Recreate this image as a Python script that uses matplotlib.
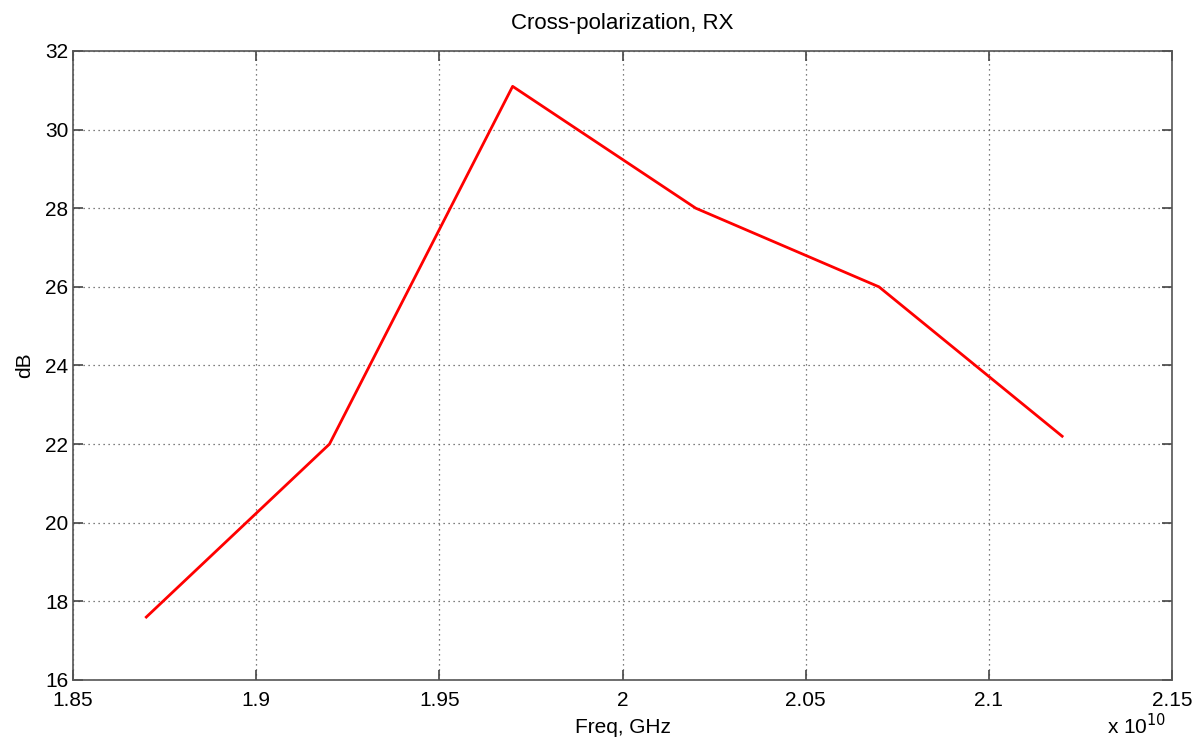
import numpy as np
import matplotlib.pyplot as plt
from matplotlib.ticker import FuncFormatter

plt.rcParams['font.family'] = ['Liberation Sans', 'DejaVu Sans']

freq = [1.87e10, 1.92e10, 1.97e10, 2.02e10, 2.07e10, 2.12e10]
xpol_db = [17.6, 22.0, 31.1, 28.0, 26.0, 22.2]

xticks = [1.85e10, 1.9e10, 1.95e10, 2.0e10, 2.05e10, 2.1e10, 2.15e10]
yticks = [16, 18, 20, 22, 24, 26, 28, 30, 32]

fig = plt.figure(figsize=(12.01, 7.42), dpi=100)
ax = fig.add_axes([0.0608, 0.0836, 0.9151, 0.8477])

ax.plot(freq, xpol_db, color='red', lw=2)

ax.set_xlim(1.85e10, 2.15e10)
ax.set_ylim(16, 32)
ax.set_xticks(xticks)
ax.set_yticks(yticks)
ax.xaxis.set_major_formatter(FuncFormatter(lambda v, p: '%g' % (v / 1e10)))
ax.tick_params(direction='in', length=7, width=1.2, labelsize=15, colors='#444444',
               labelcolor='black', top=True, right=True)
ax.tick_params(axis='x', pad=8)
ax.grid(True, linestyle=(0, (1, 3)), color='#555555', lw=0.9)
for s in ax.spines.values():
    s.set_color('#555555')
    s.set_linewidth(1.2)

ax.set_title('Cross-polarization, RX', fontsize=16, pad=16)
ax.set_xlabel('Freq, GHz', fontsize=15, labelpad=6)
ax.set_ylabel('dB', fontsize=15, labelpad=8)
ax.text(0.995, -0.072, r'x 10$^{10}$', transform=ax.transAxes, ha='right', va='center',
        fontsize=15)

fig.savefig('out.png', dpi=100)
